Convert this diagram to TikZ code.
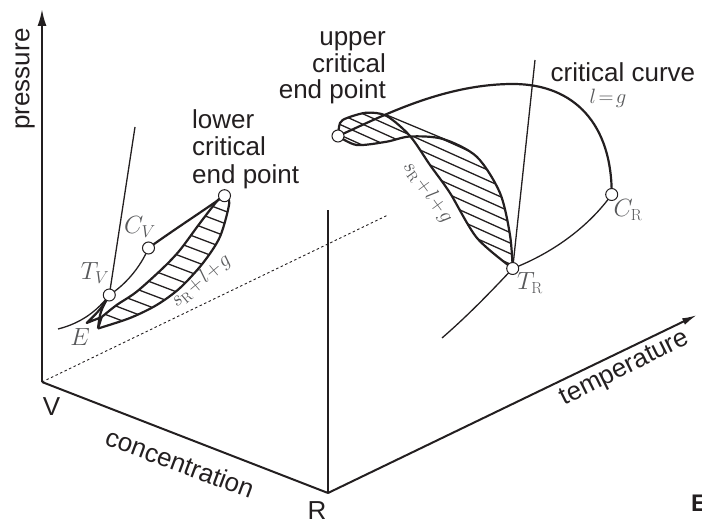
\documentclass[tikz,border=0pt]{standalone}
\usepackage{fontspec}
\setmainfont{Liberation Sans}
\setmathrm{Latin Modern Roman}
\usetikzlibrary{arrows.meta,backgrounds}
\definecolor{ink}{HTML}{231F20}
\definecolor{mlabel}{HTML}{58595B}
\tikzset{
  pt/.style={circle,draw=ink,fill=white,line width=1pt,minimum size=12pt,inner sep=0pt},
  axis/.style={draw=ink,line width=2pt},
  heavy/.style={draw=ink,line width=2.2pt,line join=round},
  light/.style={draw=ink,line width=1.3pt},
  hatchline/.style={draw=ink,line width=1.3pt},
  txt/.style={text=ink,font=\fontsize{26}{26.5}\selectfont,inner sep=0pt},
  mth/.style={text=mlabel,font=\fontsize{23}{24}\selectfont,inner sep=0pt},
  small/.style={text=mlabel,font=\fontsize{20}{22}\selectfont,inner sep=0pt},
}
\newcommand{\upperlow}{(lcep.center) (218,200) (200,223) (180,250) (163,268) (136.7,291.7) (116.7,305) (101.7,317)}
\newcommand{\lowerlow}{(tipr.center) (130,318) (156.7,305) (180,288) (203,263) (220,236.7) (229.3,203) (lcep.center)}
\newcommand{\lensa}{(ucep.center) (340,123) (347,118) (366.7,112.7) (386.7,116) (410,136) (430,165) (450,193) (477,238) (trp.center)}
\newcommand{\lensb}{(ucep.center) (356.7,145) (386.7,141.7) (410,136.5) (443,139) (476.7,156.7) (500,193) (510,235) (trp.center)}
\newcommand{\lensbrev}{(trp.center) (510,235) (500,193) (476.7,156.7) (443,139) (410,136.5) (386.7,141.7) (356.7,145) (ucep.center)}
\begin{document}
\begin{tikzpicture}[x=1pt,y=-1pt]
\useasboundingbox (0,0) rectangle (702,521);
\coordinate (V) at (42,382);
\coordinate (R) at (328,493);
\coordinate (ptop) at (42,9);
\coordinate (ttip) at (697,315);
\coordinate (rtop) at (328,210);
\coordinate (dotend) at (388,215);
\coordinate (tvtop) at (135,127);
\coordinate (trtop) at (535,60);
\coordinate (tvleft) at (58,329);
\coordinate (trdown) at (442,338);
\coordinate (tipl) at (86.7,323);
\coordinate (tipr) at (98,328.5);
\coordinate (tipm) at (101.7,317);
\coordinate (thina) at (386.7,115);
\coordinate (thinb) at (445,139.3);

\node[pt] (lcep) at (224.5,195.7) {};
\node[pt] (cv) at (148.5,248) {};
\node[pt] (tv) at (109.3,295) {};
\node[pt] (ucep) at (338,136) {};
\node[pt] (trp) at (512.7,268.5) {};
\node[pt] (cr) at (611.7,194.5) {};

\begin{scope}[on background layer]
\draw[axis,-{Latex[length=17pt,width=9pt]}] (V) -- (ptop);
\draw[axis] (V) -- (R);
\draw[axis] (R) -- (rtop);
\draw[axis,-{Latex[length=15pt,width=7pt]}] (R) -- (ttip);
\draw[ink,line width=0.9pt,dash pattern=on 2.5pt off 2.5pt] (V) -- (dotend);

% lower three-phase lens
\begin{scope}
\clip plot[smooth,tension=.5] coordinates {\upperlow} -- plot[smooth,tension=.5] coordinates {\lowerlow} -- cycle;
\foreach \c in {125.6,138,...,276}{
  \draw[hatchline] (60,{\c+0.38*60}) -- (260,{\c+0.38*260});
}
\end{scope}
\draw[heavy] plot[smooth,tension=.5] coordinates {\upperlow};
\draw[heavy] plot[smooth,tension=.5] coordinates {\lowerlow};
\draw[heavy] (tv.center) .. controls (100,310) .. (tipl) -- (tipm);
\draw[heavy] (tv.center) .. controls (100,312) .. (tipr);
\draw[heavy] (tipm) -- (tipr);
\draw[light] (tv.center) -- (tvtop);
\draw[light] (tvleft) .. controls (82,323) and (98,310) .. (tv.center);
\draw[light] (tv.center) .. controls (125,285) and (140,268) .. (cv.center);
\draw[heavy] (cv.center) .. controls (175,229) and (200,213) .. (lcep.center);

% upper three-phase lens
\begin{scope}
\clip plot[smooth,tension=.5] coordinates {\lensa} -- plot[smooth,tension=.5] coordinates {\lensbrev} -- cycle;
\foreach \c in {-60,-49.5,...,40}{
  \draw[hatchline] (320,{\c+0.45*320}) -- (530,{\c+0.45*530});
}
\end{scope}
\draw[heavy] plot[smooth,tension=.5] coordinates {\lensa};
\draw[heavy] plot[smooth,tension=.5] coordinates {\lensb};
\draw[light] (thina) -- (thinb);
\draw[heavy] (ucep.center) .. controls (375,120) and (440,84) .. (513,84)
  .. controls (575,84) and (612,125) .. (cr.center);
\draw[light] (trp.center) -- (trtop);
\draw[light] (trp.center) .. controls (555,252) and (590,225) .. (cr.center);
\draw[light] (trp.center) .. controls (485,298) and (465,318) .. (trdown);
\end{scope}

\node[txt,rotate=90] (plab) at (25,79) {pressure};
\node[txt,font=\fontsize{26}{27.5}\selectfont,align=left,anchor=north west] (lowlab) at (192,109) {lower\\critical\\end point};
\node[txt,align=right,anchor=north east] (uplab) at (386,31.5) {upper\\critical\\end point};
\node[txt,anchor=west] (cclab) at (550.5,72) {critical curve};
\node[txt] (vlab) at (51.5,406.5) {V};
\node[txt] (rlab) at (317,511) {R};
\node[txt,rotate=-20.5] (conclab) at (180,463) {concentration};
\node[txt,rotate=26.5] (templab) at (625,369) {temperature};
\node[text=ink,font=\fontsize{24}{26}\selectfont\bfseries,inner sep=0pt,anchor=west] (elab) at (691,503) {E};

\node[mth] (tvlab) at (95,273) {$T_V$};
\node[mth] (cvlab) at (140,227) {$C_V$};
\node[mth] (elabm) at (80,337) {$E$};
\node[mth] (trlab) at (530,283) {$T_{\mathrm R}$};
\node[mth] (crlab) at (628,210) {$C_{\mathrm R}$};
\node[small] (lg) at (608,98) {$l\!=\!g$};
\node[small,rotate=40] (s1) at (201,281) {$s_{\mathrm R}\!+\!l\!+\!g$};
\node[small,rotate=-54] (s2) at (428,192) {$s_{\mathrm R}\!+\!l\!+\!g$};
\end{tikzpicture}
\end{document}
